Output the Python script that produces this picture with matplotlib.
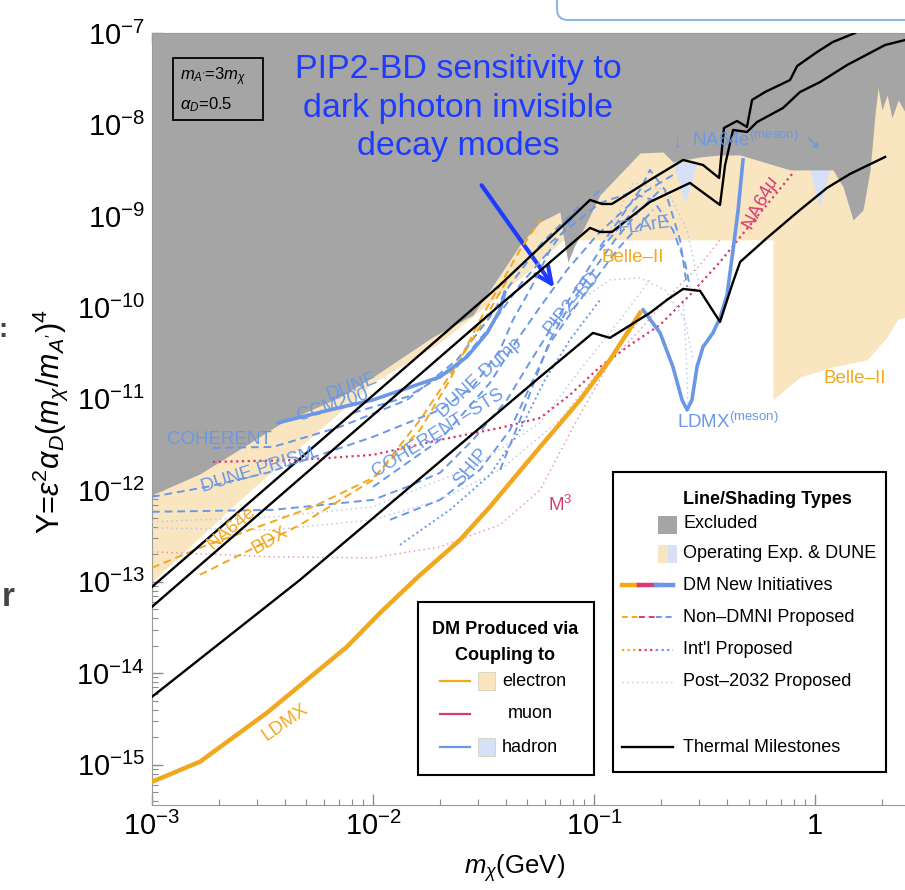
import matplotlib.pyplot as plt
import numpy as np
from matplotlib.patches import Rectangle, FancyBboxPatch
from matplotlib.lines import Line2D
from matplotlib.ticker import LogLocator, NullFormatter

plt.rcParams['font.family'] = ['Liberation Sans', 'DejaVu Sans']
plt.rcParams['mathtext.fontset'] = 'custom'
plt.rcParams['mathtext.rm'] = 'Liberation Sans'
plt.rcParams['mathtext.it'] = 'Liberation Sans:italic'
plt.rcParams['mathtext.bf'] = 'Liberation Sans:bold'

# ---- data (log10 of m_chi [GeV] and log10 of Y) ----
# excluded region, lower edge
excl_lx = [-3.000, -2.783, -2.557, -2.421, -2.149, -2.000, -1.729, -1.548, -1.425, -1.335,
           -1.244, -1.154, -1.140, -1.118, -1.086, -1.050, -0.973, -0.792, -0.688, -0.643,
           -0.520, -0.430, -0.339, -0.113, 0.081, 0.127, 0.172, 0.217, 0.249, 0.271,
           0.285, 0.303, 0.326, 0.348, 0.376, 0.407]
excl_ly = [-12.049, -11.820, -11.481, -11.273, -10.978, -10.760, -10.322, -10.082, -9.645, -9.317,
           -9.066, -8.956, -9.208, -9.503, -9.317, -9.153, -8.770, -8.311, -8.301, -8.410,
           -8.355, -8.333, -8.333, -8.497, -8.497, -8.683, -9.044, -8.934, -8.497, -7.896,
           -7.601, -7.842, -7.678, -7.929, -7.732, -7.863]

# operating experiments + DUNE (electron), lower edge
oper_lx = [-3.000, -2.602, -2.000, -1.697, -1.457, -1.290, -1.140, -0.1901, -0.1900, -0.068,
           0.081, 0.235, 0.326, 0.371, 0.407]
oper_ly = [-13.000, -12.104, -10.825, -10.388, -9.918, -9.590, -9.262, -9.262, -11.011, -10.760,
           -10.650, -10.574, -10.322, -10.137, -10.104]

# hadron operating (NA64e meson notches)
had1_lx = [-0.643, -0.611, -0.588, -0.566, -0.534]
had1_ly = [-8.410, -8.661, -8.858, -8.716, -8.421]
had2_lx = [-0.023, 0.000, 0.023, 0.045, 0.068]
had2_ly = [-8.475, -8.716, -8.902, -8.716, -8.497]

# thermal milestones
th1_lx = [-3.000, -1.502, -1.425, -1.018, -0.964, -0.919, -0.747, -0.597, -0.507, -0.434,
          -0.412, -0.353, -0.308, -0.285, -0.226, -0.113, -0.081, 0.009, 0.081, 0.181]
th1_ly = [-13.055, -9.918, -9.754, -8.825, -8.869, -8.869, -8.607, -8.388, -8.443, -8.585,
          -8.038, -7.962, -8.027, -7.732, -7.645, -7.514, -7.361, -7.208, -7.098, -7.000]
th2_lx = [-3.000, -1.425, -1.018, -0.973, -0.919, -0.747, -0.566, -0.430, -0.407, -0.371,
          -0.308, -0.262, -0.145, -0.068, 0.023, 0.145, 0.317, 0.407]
th2_ly = [-13.273, -9.973, -9.131, -9.175, -9.175, -8.847, -8.639, -8.880, -8.443, -8.060,
          -8.082, -7.973, -7.820, -7.645, -7.536, -7.350, -7.131, -7.077]
th3_lx = [-3.000, -2.330, -1.244, -1.005, -0.928, -0.747, -0.670, -0.597, -0.520, -0.430,
          -0.371, -0.339, -0.217, -0.068, 0.054, 0.158, 0.317]
th3_ly = [-14.257, -12.978, -10.760, -10.279, -10.333, -10.060, -9.918, -9.798, -9.820, -10.158,
          -9.721, -9.503, -9.240, -8.934, -8.694, -8.541, -8.355]

# DMNI projections
ldmx_lx = [-3.000, -2.783, -2.480, -2.299, -2.118, -1.968, -1.801, -1.606, -1.471, -1.244, -1.063, -0.928, -0.792]
ldmx_ly = [-15.186, -14.967, -14.432, -14.071, -13.710, -13.339, -12.956, -12.541, -12.180, -11.525, -11.011, -10.574, -10.060]
ldmxm_lx = [-0.778, -0.701, -0.643, -0.602, -0.579, -0.557, -0.534, -0.507, -0.462, -0.430, -0.398, -0.371, -0.348, -0.326]
ldmxm_ly = [-10.027, -10.279, -10.650, -11.011, -11.120, -11.011, -10.650, -10.432, -10.279, -10.115, -9.863, -9.372, -8.934, -8.388]
ccm_lx = [-2.430, -2.195, -2.000, -1.697, -1.575, -1.484, -1.425, -1.403]
ccm_ly = [-11.262, -11.120, -11.011, -10.760, -10.541, -10.279, -10.027, -9.831]

# non-DMNI proposed, hadron (dashed blue)
dashed_blue = {
    'prism_up': ([-3.000, -2.751, -2.480, -2.000, -1.697, -1.548, -1.425, -1.367, -1.290, -1.199, -1.086, -0.973],
                 [-12.071, -11.962, -11.809, -11.415, -11.120, -10.869, -10.464, -10.137, -9.809, -9.372, -8.989, -8.716]),
    'prism_lo': ([-3.000, -2.452, -2.000, -1.846, -1.697, -1.548, -1.394, -1.303, -1.199, -1.086, -0.973, -0.792],
                 [-12.235, -12.213, -12.104, -11.962, -11.809, -11.448, -11.011, -10.650, -10.246, -9.809, -9.372, -8.858]),
    'coherent': ([-2.724, -2.452, -2.149, -1.846, -1.620, -1.471, -1.380, -1.244, -1.063],
                 [-11.536, -11.525, -11.306, -11.011, -10.574, -10.104, -9.754, -9.317, -8.880]),
    'dune': ([-2.090, -1.846, -1.620, -1.471, -1.335, -1.199],
             [-11.153, -10.978, -10.650, -10.213, -9.754, -9.372]),
    'dune_dump': ([-2.000, -1.697, -1.471, -1.348, -1.244, -1.122, -0.986, -0.792, -0.643],
                  [-11.962, -11.448, -10.825, -10.355, -9.995, -9.590, -9.208, -8.770, -8.552]),
    'coh_sts': ([-1.923, -1.697, -1.516, -1.380, -1.276, -1.199, -1.063, -0.896, -0.733],
                [-12.322, -12.104, -11.776, -11.339, -10.792, -10.388, -9.918, -9.372, -8.934]),
    'pip2bd': ([-1.425, -1.335, -1.267, -1.199, -1.109, -1.018, -0.905, -0.792, -0.701],
               [-11.776, -11.230, -10.792, -10.355, -9.973, -9.645, -9.262, -8.934, -8.716]),
    'flare': ([-1.199, -0.973, -0.837, -0.733, -0.643, -0.588, -0.566],
              [-9.295, -8.858, -8.749, -8.825, -9.153, -9.514, -9.776]),
    'other': ([-0.973, -0.792, -0.747, -0.679, -0.611, -0.579],
              [-9.339, -8.716, -8.497, -8.716, -9.262, -9.776]),
}
# non-DMNI proposed, electron (dashed orange)
na64e_lx = [-3.000, -2.783, -2.557, -2.271, -2.000, -1.787, -1.652, -1.516, -1.425, -1.335, -1.244]
na64e_ly = [-12.847, -12.628, -12.432, -12.180, -11.863, -11.339, -10.792, -10.137, -9.754, -9.372, -9.044]
bdx_lx = [-2.783, -2.602, -2.330, -2.000, -1.787, -1.606, -1.471, -1.380]
bdx_ly = [-12.923, -12.705, -12.377, -11.885, -11.230, -10.574, -10.027, -9.645]

# international proposed (dotted)
na64mu_lx = [-2.724, -2.330, -2.000, -1.697, -1.425, -1.244, -1.109, -0.973, -0.837, -0.701, -0.566, -0.430, -0.294, -0.181, -0.100]
na64mu_ly = [-11.689, -11.667, -11.612, -11.448, -11.317, -11.208, -10.956, -10.650, -10.410, -10.191, -9.863, -9.503, -9.098, -8.770, -8.530]
ship_lx = [-1.878, -1.652, -1.471, -1.335, -1.222, -1.109, -0.973]
ship_ly = [-12.596, -12.213, -11.831, -11.339, -10.792, -10.355, -9.918]

# post-2032 proposed (thin dotted)
m3_lx = [-3.000, -2.452, -2.000, -1.697, -1.425, -1.244, -1.077, -0.928, -0.792, -0.715, -0.611, -0.520, -0.430]
m3_ly = [-12.672, -12.727, -12.738, -12.617, -12.377, -11.995, -11.230, -10.596, -10.246, -10.027, -9.754, -9.536, -9.262]
post_blue = [
    ([-3.000, -2.452, -2.000, -1.548, -1.244, -1.063, -0.882, -0.747],
     [-12.344, -12.290, -12.180, -11.743, -11.262, -10.683, -10.137, -9.699]),
    ([-3.000, -2.452, -2.000, -1.697, -1.425, -1.154, -0.973, -0.792],
     [-12.410, -12.432, -12.322, -12.104, -11.776, -11.230, -10.683, -10.137]),
    ([-1.199, -1.063, -0.928, -0.792, -0.679, -0.588, -0.552],
     [-10.246, -9.918, -9.699, -9.678, -9.809, -10.137, -10.574]),
    ([-0.973, -0.824, -0.670, -0.579, -0.520],
     [-9.372, -8.639, -8.716, -9.153, -9.809]),
    ([-0.597, -0.584, -0.575],
     [-9.918, -10.464, -11.066]),
]

# ---- style ----
GRAY = '#a5a5a5'
BEIGE = '#f9e5c0'
LBLUE = '#d6e1f7'
BLUE = '#6b98e6'
ORANGE = '#f2a81d'
MAGENTA = '#d83a73'
POST = '#b4c4e4'
ANN = '#1e3cff'

W, H = 905, 890


def fp(x, y):
    # pixel position -> figure fraction
    return x / W, 1 - y / H


def p(lx):
    return 10 ** np.asarray(lx)


fig = plt.figure(figsize=(W / 100, H / 100), dpi=100)
ax = fig.add_axes([152 / W, 1 - 805 / H, (W - 152) / W, (805 - 33) / H])
ax.set_xscale('log')
ax.set_yscale('log')
ax.set_xlim(1e-3, 10 ** 0.407)
ax.set_ylim(10 ** -15.44, 1e-7)

ax.fill_between(p(oper_lx), p(oper_ly), 1e-6, color=BEIGE, lw=0, zorder=1)
ax.fill(p(had1_lx), p(had1_ly), color=LBLUE, lw=0, zorder=1.5)
ax.fill(p(had2_lx), p(had2_ly), color=LBLUE, lw=0, zorder=1.5)
ax.fill_between(p(excl_lx), p(excl_ly), 1e-6, color=GRAY, lw=0, zorder=2)

for lx, ly in post_blue:
    ax.plot(p(lx), p(ly), color=POST, lw=1.0, ls=(0, (1, 2.5)), zorder=3)
ax.plot(p(m3_lx), p(m3_ly), color='#e58aa8', lw=1.0, ls=(0, (1, 2.5)), zorder=3)

ax.plot(p(na64mu_lx), p(na64mu_ly), color=MAGENTA, lw=1.6, ls=(0, (1, 1.6)), zorder=4)
ax.plot(p(ship_lx), p(ship_ly), color=BLUE, lw=1.4, ls=(0, (1, 1.6)), zorder=4)

for lx, ly in dashed_blue.values():
    ax.plot(p(lx), p(ly), color=BLUE, lw=1.4, ls=(0, (4, 2.5)), zorder=4)
ax.plot(p(na64e_lx), p(na64e_ly), color=ORANGE, lw=1.4, ls=(0, (4, 2.5)), zorder=4)
ax.plot(p(bdx_lx), p(bdx_ly), color=ORANGE, lw=1.4, ls=(0, (4, 2.5)), zorder=4)

ax.plot(p(ccm_lx), p(ccm_ly), color=BLUE, lw=2.6, zorder=5, solid_capstyle='round')
ax.plot(p(ldmxm_lx), p(ldmxm_ly), color=BLUE, lw=2.6, zorder=5)
ax.plot(p(ldmx_lx), p(ldmx_ly), color=ORANGE, lw=3.2, zorder=5)

for lx, ly in [(th1_lx, th1_ly), (th2_lx, th2_ly), (th3_lx, th3_ly)]:
    ax.plot(p(lx), p(ly), color='black', lw=1.7, zorder=6)

# axes styling
ax.set_xticks([1e-3, 1e-2, 1e-1, 1], labels=[r'$10^{-3}$', r'$10^{-2}$', r'$10^{-1}$', '1'])
ax.set_yticks([10.0 ** k for k in range(-15, -6)],
              labels=[r'$10^{%d}$' % k for k in range(-15, -6)])
for axis in (ax.xaxis, ax.yaxis):
    axis.set_minor_locator(LogLocator(base=10, subs=np.arange(2, 10), numticks=30))
    axis.set_minor_formatter(NullFormatter())
ax.tick_params(which='both', direction='in', top=True, right=False, color='#8c8c8c',
               labelsize=21, pad=5)
ax.tick_params(which='major', length=8, width=1)
ax.tick_params(which='minor', length=4, width=0.8)
for s in ('left', 'bottom', 'top'):
    ax.spines[s].set_color('#9a9a9a')
ax.spines['right'].set_visible(False)

fig.text(*fp(515, 868), r'$m_\chi$(GeV)', fontsize=18.5, ha='center', va='center')
fig.text(*fp(50, 422), r'Y=$\epsilon^2\alpha_D(m_\chi/m_{A^\prime})^4$', fontsize=22,
         rotation=90, ha='center', va='center')

# curve labels
lab = [
    ('COHERENT', 219, 440, 0, BLUE),
    ('DUNE PRISM', 258, 470, 17, BLUE),
    ('DUNE', 352, 387, 20, BLUE),
    ('CCM200', 333, 405, 18, BLUE),
    ('DUNE Dump', 480, 378, 43, BLUE),
    ('COHERENT\u2013STS', 438, 433, 32, BLUE),
    ('SHIP', 471, 467, 50, BLUE),
    ('PIP2\u2013BD', 572, 303, 50, BLUE),
    ('FLArE', 644, 226, 8, BLUE),
    ('Belle\u2013II', 633, 257, 0, ORANGE),
    ('Belle\u2013II', 855, 378, 0, ORANGE),
    ('NA64e', 232, 528, 40, ORANGE),
    ('BDX', 270, 540, 30, ORANGE),
    ('LDMX', 285, 722, 35, ORANGE),
    (r'NA64$\mu$', 762, 203, 62, MAGENTA),
    (r'M$^3$', 560, 505, 0, MAGENTA),
    (r'LDMX$^{\rm (meson)}$', 728, 422, 0, BLUE),
    (r'NA64e$^{\rm (meson)}$', 745, 140, 0, BLUE),
    ('\u2193', 677, 143, 0, BLUE),
    ('\u2198', 812, 143, 0, BLUE),
]
for t, x, y, r, c in lab:
    fig.text(*fp(x, y), t, color=c, fontsize=13.5, rotation=r, ha='center', va='center',
             rotation_mode='anchor', zorder=10)

# parameter box
fig.add_artist(Rectangle(fp(173, 120), 90 / W, 62 / H, facecolor='none', edgecolor='black', lw=1.3))
fig.text(*fp(180, 77), r"$m_{A^\prime}$=3$m_\chi$", fontsize=12, va='center')
fig.text(*fp(180, 105), r"$\alpha_D$=0.5", fontsize=12, va='center')

# annotation
fig.text(*fp(458, 108), 'PIP2-BD sensitivity to\ndark photon invisible\ndecay modes', color=ANN,
         fontsize=24.5, ha='center', va='center', linespacing=1.3)
ax.annotate('', xy=fp(556, 290), xycoords='figure fraction', xytext=fp(480, 183),
            textcoords='figure fraction',
            arrowprops=dict(arrowstyle='->,head_length=1.2,head_width=0.55', color=ANN, lw=3))

# legend 1
fig.add_artist(Rectangle(fp(418, 775), 176 / W, 173 / H, facecolor='white', edgecolor='black',
                         lw=1.5, zorder=20))
fig.text(*fp(505, 630), 'DM Produced via', fontsize=13, fontweight='bold', ha='center', va='center', zorder=21)
fig.text(*fp(505, 655), 'Coupling to', fontsize=13, fontweight='bold', ha='center', va='center', zorder=21)
rows1 = [('electron', 681, ORANGE, BEIGE), ('muon', 714, MAGENTA, None), ('hadron', 747, BLUE, LBLUE)]
for name, y, lc, sc in rows1:
    x0, y0 = fp(440, y)
    x1, _ = fp(470, y)
    fig.add_artist(Line2D([x0, x1], [y0, y0], color=lc, lw=1.6, zorder=21))
    if sc:
        fig.add_artist(Rectangle(fp(478, y + 9), 17 / W, 18 / H, facecolor=sc,
                                 edgecolor='#d8d2c4', lw=0.6, zorder=21))
    fig.text(*fp(502 if name != 'muon' else 508, y), name, fontsize=13, va='center', zorder=21)

# legend 2
fig.add_artist(Rectangle(fp(613, 772), 273 / W, 300 / H, facecolor='white', edgecolor='black',
                         lw=1.5, zorder=20))
fig.text(*fp(683, 499), 'Line/Shading Types', fontsize=13, fontweight='bold', va='center', zorder=21)
fig.add_artist(Rectangle(fp(658, 534), 19 / W, 18 / H, facecolor=GRAY, edgecolor='none', zorder=21))
fig.add_artist(Rectangle(fp(658, 563), 10 / W, 18 / H, facecolor=BEIGE, edgecolor='none', zorder=21))
fig.add_artist(Rectangle(fp(668, 563), 9 / W, 18 / H, facecolor=LBLUE, edgecolor='none', zorder=21))
rows2 = [('Excluded', 524), ('Operating Exp. & DUNE', 554), ('DM New Initiatives', 585),
         ('Non\u2013DMNI Proposed', 617), ("Int'l Proposed", 650), ('Post\u20132032 Proposed', 682),
         ('Thermal Milestones', 747)]
for name, y in rows2:
    fig.text(*fp(683, y), name, fontsize=13, va='center', zorder=21)
seg_x = [622, 639, 656, 673]
tri = [ORANGE, MAGENTA, BLUE]
styles = [(585, '-', 3.2), (617, (0, (3, 2)), 1.4), (650, (0, (1, 1.5)), 1.6)]
for y, ls, lw in styles:
    for i in range(3):
        a, yy = fp(seg_x[i], y)
        b, _ = fp(seg_x[i + 1], y)
        fig.add_artist(Line2D([a, b], [yy, yy], color=tri[i], lw=lw, ls=ls, zorder=21))
a, yy = fp(622, 682)
b, _ = fp(673, 682)
fig.add_artist(Line2D([a, b], [yy, yy], color='#c0c4d8', lw=1.0, ls=(0, (1, 2.5)), zorder=21))
a, yy = fp(622, 747)
fig.add_artist(Line2D([a, b], [yy, yy], color='black', lw=1.7, zorder=21))

# slide fragments around the figure
fig.add_artist(FancyBboxPatch(fp(557, 20), 400 / W, 60 / H, boxstyle='round,pad=0,rounding_size=0.012',
                              facecolor='white', edgecolor='#8db6e8', lw=1.5, zorder=30))
fig.text(*fp(3, 330), ':', fontsize=20, fontweight='bold', color='#444444', ha='center', va='center')
fig.text(*fp(8, 598), 'r', fontsize=24, fontweight='bold', color='#444444', ha='center', va='center')

fig.savefig('out.png', dpi=100)
